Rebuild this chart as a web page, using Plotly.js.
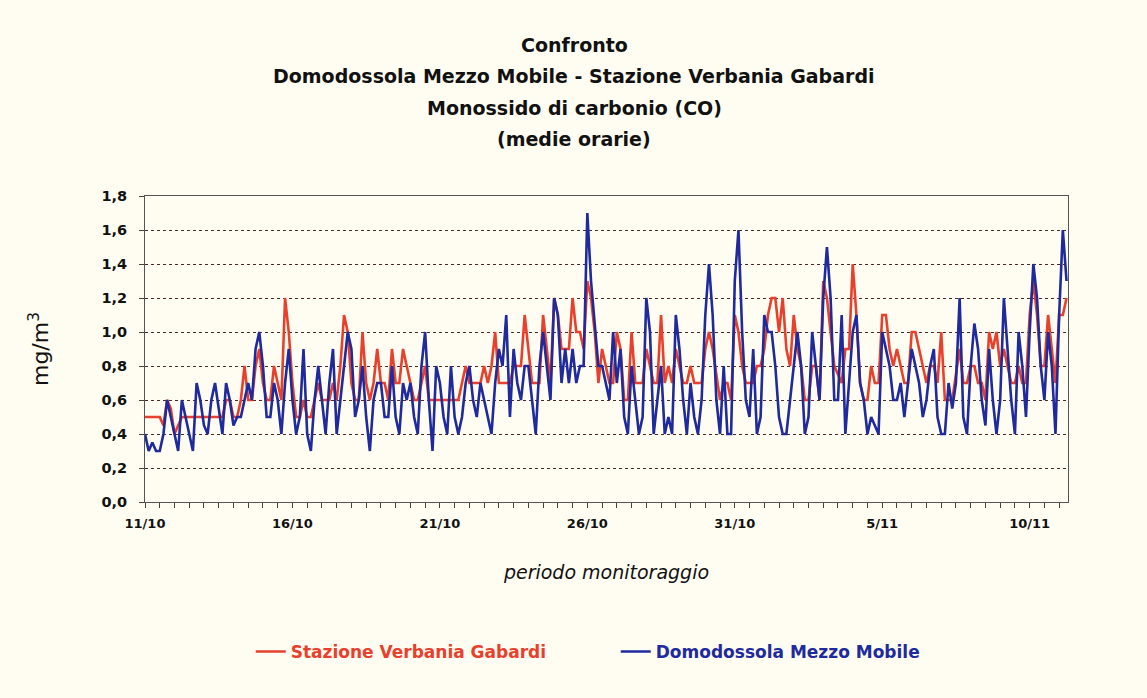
<!DOCTYPE html>
<html>
<head>
<meta charset="utf-8">
<script src="https://cdn.plot.ly/plotly-3.0.1.min.js"></script>
<style>
html,body{margin:0;padding:0;background:#fffdf1;}
#chart{width:1147px;height:698px;}
</style>
</head>
<body>
<div id="chart"></div>
<script>
// Hourly-average CO (mg/m3), read every 3 hours starting 11/10 00:00
const STEP_HOURS = 3;
const dayLabels = ["11/10","16/10","21/10","26/10","31/10","5/11","10/11"];
const dayLabelPos = [0,5,10,15,20,25,30];

const verbania = [
0.5,0.5,0.5,0.5,0.5,0.45,0.6,0.55,0.4,0.45,
0.5,0.5,0.5,0.5,0.5,0.5,0.5,0.5,0.5,0.5,
0.5,0.5,0.6,0.6,0.5,0.5,0.6,0.8,0.6,0.6,
0.8,0.9,0.7,0.6,0.6,0.8,0.7,0.6,1.2,1.0,
0.7,0.5,0.5,0.6,0.5,0.5,0.6,0.7,0.6,0.6,
0.6,0.7,0.6,0.8,1.1,1.0,0.7,0.6,0.6,1.0,
0.7,0.6,0.7,0.9,0.7,0.7,0.6,0.9,0.7,0.7,
0.9,0.8,0.7,0.6,0.6,0.7,0.8,0.6,0.6,0.6,
0.6,0.6,0.6,0.6,0.6,0.6,0.7,0.8,0.7,0.7,
0.7,0.7,0.8,0.7,0.8,1.0,0.7,0.7,0.7,0.7,
0.8,0.8,0.8,1.1,0.9,0.7,0.7,0.7,1.1,0.9,
0.7,1.2,1.1,0.9,0.9,0.9,1.2,1.0,1.0,0.9,
1.3,1.2,1.0,0.7,0.9,0.8,0.7,0.7,1.0,0.9,
0.6,0.6,1.0,0.7,0.7,0.7,0.9,0.8,0.7,0.7,
1.1,0.7,0.8,0.7,0.9,0.8,0.7,0.7,0.8,0.7,
0.7,0.7,0.9,1.0,0.9,0.75,0.6,0.7,0.7,0.6,
1.1,1.0,0.8,0.7,0.7,0.7,0.8,0.8,0.9,1.1,
1.2,1.2,1.0,1.2,0.9,0.8,1.1,0.9,0.8,0.6,
0.6,0.8,0.8,0.6,1.3,1.2,1.0,0.8,0.75,0.7,
0.9,0.9,1.4,1.1,0.7,0.6,0.6,0.8,0.7,0.7,
1.1,1.1,0.9,0.8,0.9,0.8,0.7,0.7,1.0,1.0,
0.9,0.8,0.7,0.8,0.8,0.7,1.0,0.6,0.6,0.6,
0.75,0.9,0.7,0.7,0.8,0.8,0.7,0.7,0.6,1.0,
0.9,1.0,0.8,0.9,0.8,0.7,0.7,0.8,0.7,0.7,
1.1,1.3,1.1,0.8,0.8,1.1,0.9,0.7,1.1,1.1,1.2
];

const domodossola = [
0.4,0.3,0.35,0.3,0.3,0.4,0.6,0.5,0.4,0.3,
0.6,0.5,0.4,0.3,0.7,0.6,0.45,0.4,0.6,0.7,
0.55,0.4,0.7,0.6,0.45,0.5,0.5,0.6,0.7,0.6,
0.9,1.0,0.8,0.5,0.5,0.7,0.6,0.4,0.7,0.9,
0.6,0.4,0.5,0.9,0.4,0.3,0.6,0.8,0.6,0.4,
0.7,0.9,0.4,0.6,0.8,1.0,0.9,0.5,0.6,0.8,
0.5,0.3,0.6,0.7,0.7,0.5,0.5,0.8,0.5,0.4,
0.7,0.6,0.7,0.5,0.4,0.8,1.0,0.6,0.3,0.8,
0.7,0.5,0.4,0.8,0.5,0.4,0.5,0.7,0.8,0.6,
0.5,0.7,0.6,0.5,0.4,0.7,0.9,0.8,1.1,0.5,
0.9,0.7,0.6,0.8,0.8,0.6,0.4,0.8,1.0,0.8,
0.6,1.2,1.1,0.7,0.9,0.7,0.9,0.7,0.8,0.8,
1.7,1.3,1.05,0.8,0.8,0.7,0.6,1.0,0.7,0.9,
0.5,0.4,0.8,0.6,0.4,0.5,1.2,1.0,0.4,0.6,
0.8,0.4,0.5,0.4,1.1,0.9,0.6,0.4,0.7,0.5,
0.4,0.6,1.1,1.4,1.1,0.6,0.4,0.8,0.4,0.4,
1.3,1.6,1.0,0.6,0.5,0.9,0.4,0.5,1.1,1.0,
1.0,0.8,0.5,0.4,0.4,0.6,0.8,1.0,0.8,0.4,
0.5,1.0,0.8,0.6,1.2,1.5,1.2,0.6,0.6,1.1,
0.4,0.7,1.0,1.1,0.7,0.6,0.4,0.5,0.45,0.4,
1.0,0.9,0.8,0.6,0.6,0.7,0.5,0.7,0.9,0.8,
0.7,0.5,0.6,0.8,0.9,0.5,0.4,0.4,0.7,0.55,
0.7,1.2,0.5,0.4,0.8,1.05,0.9,0.6,0.45,0.9,
0.6,0.4,0.6,1.2,0.9,0.6,0.4,1.0,0.8,0.5,
1.0,1.4,1.2,0.8,0.6,1.0,0.8,0.4,1.1,1.6,1.3
];

const seriesNames = ["Stazione Verbania Gabardi","Domodossola Mezzo Mobile"];
const seriesColors = ["#e8402c","#1e2a9e"];

const t = verbania.map((_, i) => i * STEP_HOURS / 24);

const font = "DejaVu Sans, sans-serif";

const traces = [
  {x: t, y: verbania, type: 'scatter', mode: 'lines',
   name: '<span style="color:' + seriesColors[0] + '">' + seriesNames[0] + '</span>',
   line: {color: seriesColors[0], width: 2.6}},
  {x: t, y: domodossola, type: 'scatter', mode: 'lines',
   name: '<span style="color:' + seriesColors[1] + '">' + seriesNames[1] + '</span>',
   line: {color: seriesColors[1], width: 2.6}}
];

const titleLines = ["Confronto","Domodossola Mezzo Mobile - Stazione Verbania Gabardi","Monossido di carbonio (CO)","(medie orarie)"];
const titleY = [1.493, 1.391, 1.288, 1.185];

const layout = {
  width: 1147, height: 698,
  paper_bgcolor: '#fffdf1', plot_bgcolor: '#fffdf1',
  separators: ',.',
  margin: {l: 145, r: 79, t: 196, b: 196},
  showlegend: true,
  legend: {orientation: 'h', x: 0.51, xanchor: 'center', y: -0.49, yanchor: 'middle',
           font: {family: font, size: 17, weight: 700}, bgcolor: 'rgba(0,0,0,0)',
           itemwidth: 30, entrywidth: 320, entrywidthmode: 'pixels'},
  xaxis: {
    range: [0, 31.3], tickvals: dayLabelPos, ticktext: dayLabels,
    ticks: 'outside', ticklen: 5, tickcolor: '#444', ticklabelstandoff: 4,
    minor: {dtick: 0.5, tick0: 0, ticks: 'outside', ticklen: 5, tickcolor: '#444'},
    showgrid: false, zeroline: false,
    showline: true, linecolor: '#555', linewidth: 1, mirror: true,
    tickfont: {family: font, size: 13, color: '#111', weight: 700},
    title: {text: '<i>periodo monitoraggio</i>', font: {family: font, size: 19, color: '#111'}, standoff: 36}
  },
  yaxis: {
    range: [0, 1.8], dtick: 0.2, tick0: 0, tickformat: '.1f',
    ticks: 'outside', ticklen: 5, tickcolor: '#444', ticklabelstandoff: 9,
    showgrid: true, gridcolor: '#4a2a2a', griddash: 'dot', gridwidth: 1,
    zeroline: false, showline: true, linecolor: '#555', linewidth: 1, mirror: true,
    tickfont: {family: font, size: 14.5, color: '#111', weight: 700},
    title: {text: 'mg/m<sup>3</sup>', font: {family: font, size: 22, color: '#111'}, standoff: 46}
  },
  annotations: titleLines.map((s, i) => ({
    text: s, xref: 'paper', yref: 'paper', x: 0.465, y: titleY[i],
    xanchor: 'center', yanchor: 'middle', showarrow: false,
    font: {family: font, size: 19, color: '#111', weight: 700}
  }))
};

Plotly.newPlot('chart', traces, layout, {displayModeBar: false, staticPlot: true});
</script>
</body>
</html>
